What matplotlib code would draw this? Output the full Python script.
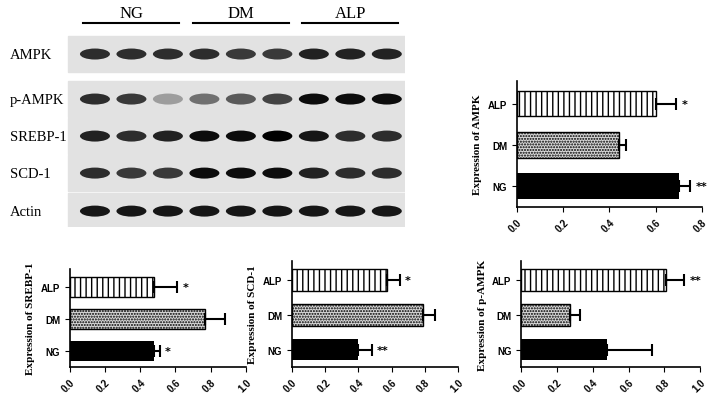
import matplotlib.pyplot as plt
from matplotlib.patches import Ellipse, Rectangle

# -----------------------------
# DATA
# -----------------------------
groups = ["NG", "DM", "ALP"]
proteins = ["AMPK", "p-AMPK", "SREBP-1", "SCD-1", "Actin"]

# band darkness per lane (3 lanes per group)
band_ampk = [0.8, 0.8, 0.8, 0.8, 0.75, 0.75, 0.85, 0.85, 0.85]
band_pampk = [0.8, 0.75, 0.3, 0.5, 0.6, 0.7, 0.95, 0.95, 0.95]
band_srebp = [0.85, 0.8, 0.85, 0.95, 0.95, 1.0, 0.9, 0.8, 0.8]
band_scd = [0.8, 0.75, 0.75, 0.95, 0.95, 0.95, 0.85, 0.8, 0.8]
band_actin = [0.9, 0.9, 0.9, 0.9, 0.9, 0.9, 0.9, 0.9, 0.9]

ampk_mean = [0.70, 0.44, 0.60]
ampk_err = [0.05, 0.03, 0.09]
ampk_sig = ["**", "", "*"]

srebp_mean = [0.48, 0.77, 0.48]
srebp_err = [0.03, 0.11, 0.13]
srebp_sig = ["*", "", "*"]

scd_mean = [0.40, 0.79, 0.57]
scd_err = [0.08, 0.07, 0.08]
scd_sig = ["**", "", "*"]

pampk_mean = [0.48, 0.27, 0.81]
pampk_err = [0.25, 0.06, 0.10]
pampk_sig = ["", "", "**"]

# -----------------------------
# FIGURE
# -----------------------------
fig = plt.figure(figsize=(7.19, 4.14), dpi=100)

# western blot panel (pixel coordinates)
bax = fig.add_axes([0, 0.449, 0.563, 0.551])
bax.set_xlim(0, 405)
bax.set_ylim(228, 0)
bax.axis("off")

row_y = [55, 100, 137, 174, 212]
bands = [band_ampk, band_pampk, band_srebp, band_scd, band_actin]
lane_x = [95 + i * 36.5 for i in range(9)]
for label, y, row in zip(proteins, row_y, bands):
    bax.add_patch(Rectangle((68, y - 18), 337, 36, color="#e2e2e2", zorder=0))
    bax.text(10, y, label, fontsize=10.5, family="Liberation Serif", va="center")
    for x, d in zip(lane_x, row):
        bax.add_patch(Ellipse((x, y), 30, 11, color="black", alpha=d, lw=0))

for i, g in enumerate(groups):
    cx = lane_x[i * 3 + 1]
    bax.plot([cx - 48, cx + 48], [24, 24], color="black", lw=1.5)
    bax.text(cx, 18, g, fontsize=12, family="Liberation Serif", ha="center")


def bar_panel(rect, means, errs, sigs, xmax, ylabel):
    ax = fig.add_axes(rect)
    ypos = [0, 1, 2]
    styles = [
        dict(color="black"),
        dict(facecolor="#d8d8d8", edgecolor="black", hatch="......"),
        dict(facecolor="white", edgecolor="black", hatch="|||"),
    ]
    for y, m, e, s, st in zip(ypos, means, errs, sigs, styles):
        ax.barh(y, m, height=0.62, lw=1, **st)
        ax.errorbar(m, y, xerr=[[0], [e]], color="black", capsize=4, lw=1.5, capthick=1.5)
        if s:
            ax.text(m + e + xmax * 0.03, y, s, fontsize=8, fontweight="bold", va="center")
    ax.set_ylim(-0.5, 2.55)
    ax.set_xlim(0, xmax)
    ax.set_yticks(ypos)
    ax.set_yticklabels(groups, family="Liberation Sans", fontweight="bold", fontsize=7)
    ticks = [i * 0.2 for i in range(int(round(xmax / 0.2)) + 1)]
    ax.set_xticks(ticks)
    ax.set_xticklabels([f"{t:.1f}" for t in ticks], rotation=45, ha="right",
                       rotation_mode="anchor", family="Liberation Sans",
                       fontweight="bold", fontsize=7)
    ax.set_ylabel(ylabel, family="Liberation Serif", fontweight="bold", fontsize=8)
    for side in ["top", "right"]:
        ax.spines[side].set_visible(False)
    ax.spines["left"].set_linewidth(1.2)
    ax.spines["bottom"].set_linewidth(1.2)
    return ax


bar_panel([0.719, 0.498, 0.257, 0.304], ampk_mean, ampk_err, ampk_sig, 0.8, "Expression of AMPK")
bar_panel([0.097, 0.111, 0.245, 0.237], srebp_mean, srebp_err, srebp_sig, 1.0, "Expression of SREBP-1")
bar_panel([0.406, 0.111, 0.231, 0.256], scd_mean, scd_err, scd_sig, 1.0, "Expression of SCD-1")
bar_panel([0.725, 0.111, 0.249, 0.256], pampk_mean, pampk_err, pampk_sig, 1.0, "Expression of p-AMPK")

fig.savefig("out.png", dpi=100)
